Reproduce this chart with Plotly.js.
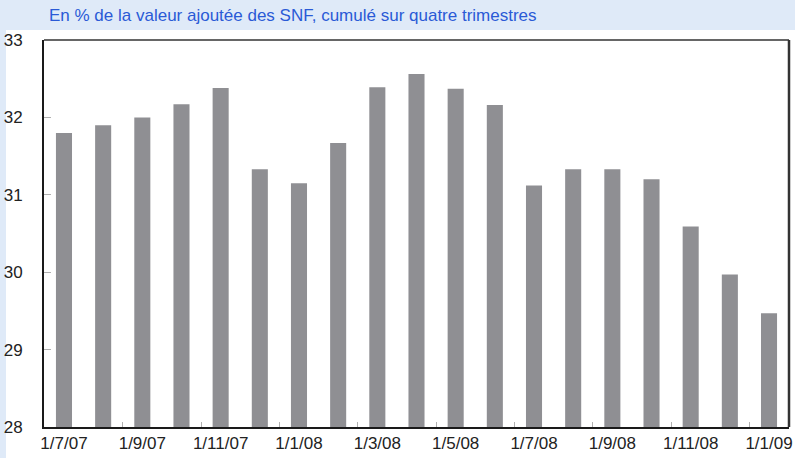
<!DOCTYPE html>
<html>
<head>
<meta charset="utf-8">
<script src="https://cdn.plot.ly/plotly-3.0.1.min.js"></script>
<style>html,body{margin:0;padding:0;background:#fff;}#chart{width:795px;height:458px;}</style>
</head>
<body>
<div id="chart"></div>
<script>
var months = ["1/7/07","1/8/07","1/9/07","1/10/07","1/11/07","1/12/07","1/1/08","1/2/08","1/3/08","1/4/08","1/5/08","1/6/08","1/7/08","1/8/08","1/9/08","1/10/08","1/11/08","1/12/08","1/1/09"];
var values = [31.80,31.90,32.00,32.17,32.38,31.33,31.15,31.67,32.39,32.56,32.37,32.16,31.12,31.33,31.33,31.20,30.59,29.97,29.47];
var yTicks = [28,29,30,31,32,33];
var titleText = "En % de la valeur ajoutée des SNF, cumulé sur quatre trimestres";

var W = 795, H = 458;
var m = {l:44, r:6, t:40, b:31};
var pw = W - m.l - m.r, ph = H - m.t - m.b;
function px(x){ return (x - m.l) / pw; }
function py(y){ return (H - m.b - y) / ph; }

var fam = "Liberation Sans";

var trace = {
  type: 'bar',
  x: months,
  y: values,
  marker: {color: '#8f8f93', line: {width: 0}},
  hoverinfo: 'x+y'
};

var layout = {
  width: W, height: H,
  margin: m,
  paper_bgcolor: '#ffffff',
  plot_bgcolor: '#ffffff',
  showlegend: false,
  bargap: 0.59,
  font: {family: fam, color: '#222', size: 17},
  title: {
    text: titleText,
    x: 49 / W, xanchor: 'left', xref: 'container',
    y: 1 - 15 / H, yanchor: 'middle', yref: 'container',
    font: {family: fam, size: 17, color: '#2a5ad6'}
  },
  xaxis: {
    type: 'category',
    range: [-0.51, 18.51],
    dtick: 2,
    tickson: 'boundaries',
    tickangle: 0,
    ticks: 'inside',
    ticklen: 5,
    tickwidth: 1,
    tickcolor: '#b0b0b0',
    showgrid: false,
    zeroline: false,
    showline: true,
    linecolor: '#1a1a1a',
    linewidth: 2,
    tickfont: {family: fam, size: 17, color: '#222'},
    fixedrange: true
  },
  yaxis: {
    range: [28, 33],
    tickvals: yTicks,
    ticktext: yTicks.map(String),
    ticks: 'inside',
    ticklen: 7,
    tickwidth: 1,
    tickcolor: '#b0b0b0',
    showgrid: false,
    zeroline: false,
    showline: true,
    linecolor: '#1a1a1a',
    linewidth: 2,
    ticklabelstandoff: 16,
    tickfont: {family: fam, size: 17, color: '#222'},
    fixedrange: true
  },
  shapes: [
    {type:'rect', xref:'paper', yref:'paper', x0: px(0), x1: px(W), y0: py(30), y1: py(0), fillcolor:'#dfeaf8', line:{width:0}, layer:'below'},
    {type:'rect', xref:'paper', yref:'paper', x0: px(0), x1: px(6), y0: py(H), y1: py(30), fillcolor:'#dfeaf8', line:{width:0}, layer:'below'},
    {type:'line', xref:'paper', yref:'paper', x0: 0, x1: 1, y0: 1, y1: 1, line:{color:'#333333', width:1.5}},
    {type:'line', xref:'paper', yref:'paper', x0: 1, x1: 1, y0: 0, y1: 1, line:{color:'#333333', width:2.5}}
  ]
};

Plotly.newPlot('chart', [trace], layout, {displayModeBar: false, staticPlot: true});
</script>
</body>
</html>
